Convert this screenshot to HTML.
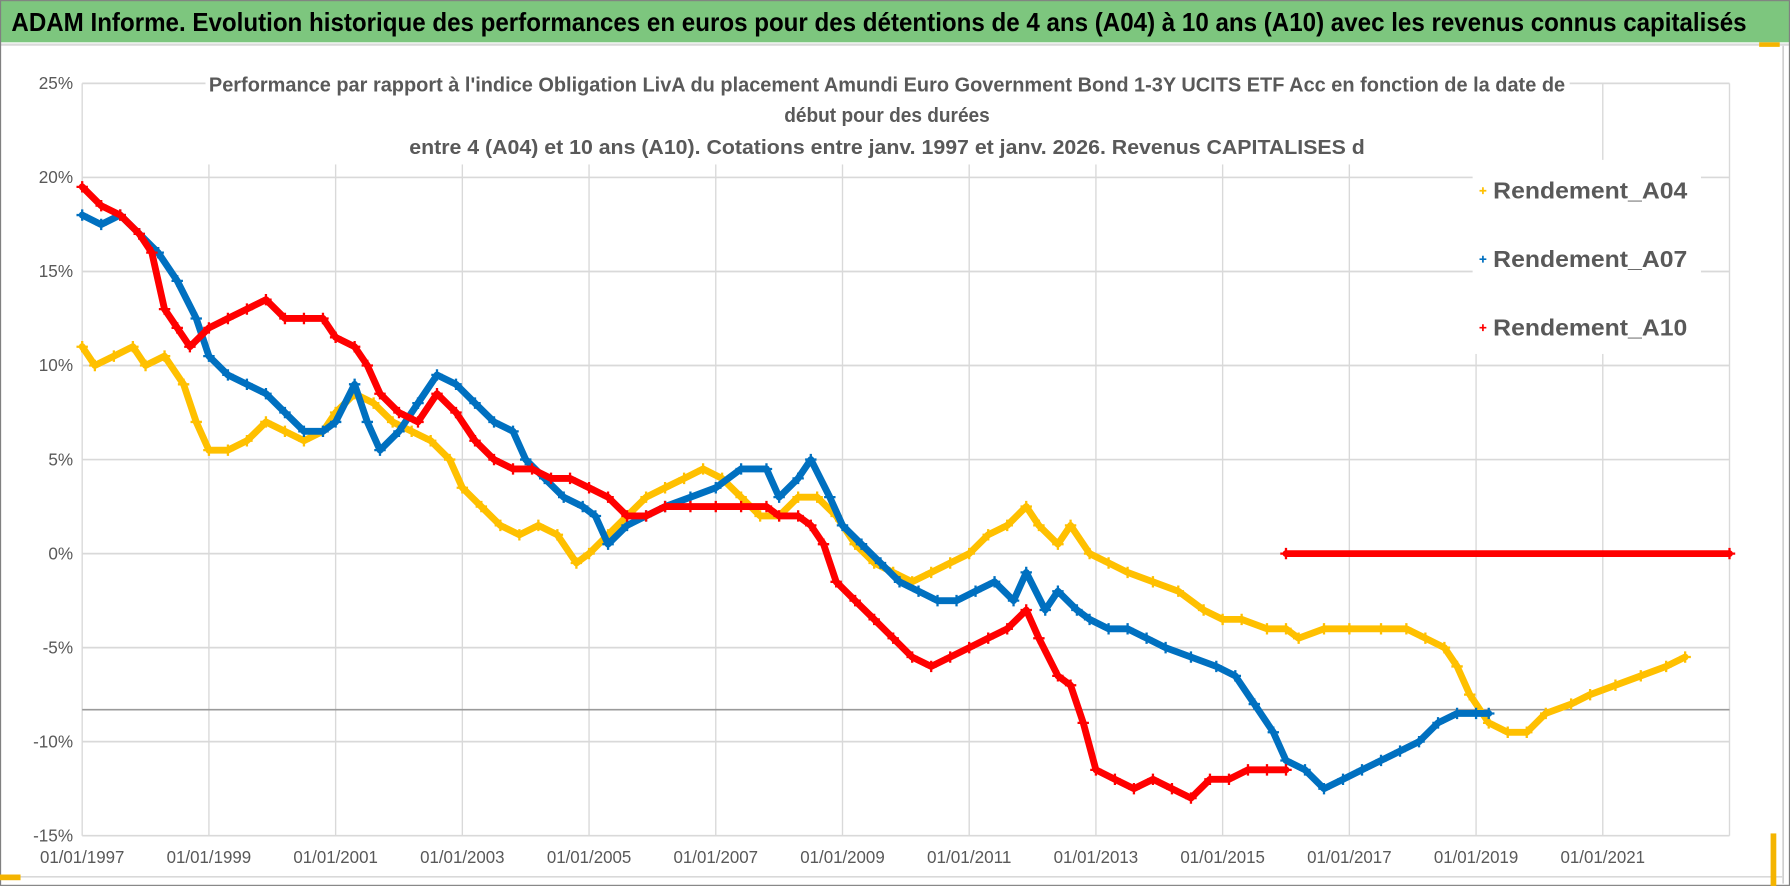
<!DOCTYPE html>
<html><head><meta charset="utf-8"><style>
html,body{margin:0;padding:0;background:#fff;}
svg{display:block;font-family:"Liberation Sans",sans-serif;}
</style></head><body>
<svg id="chart" width="1790" height="886" viewBox="0 0 1568 776" xmlns="http://www.w3.org/2000/svg">
<rect x="0" y="0" width="1568" height="776" fill="#fff"/>
<rect x="0" y="0" width="1568" height="37" fill="#7dc67e"/>
<text x="10" y="27" font-size="22.5" font-weight="bold" fill="#000" textLength="1520" lengthAdjust="spacingAndGlyphs">ADAM Informe. Evolution historique des performances en euros pour des détentions de 4 ans (A04) à 10 ans (A10) avec les revenus connus capitalisés</text>
<line x1="0" y1="39" x2="1568" y2="39" stroke="#d9d9d9" stroke-width="2"/>
<rect x="0.5" y="0.5" width="1567" height="775" fill="none" stroke="#808080" stroke-width="1"/>
<line x1="1562" y1="40" x2="1562" y2="774" stroke="#d0d0d0" stroke-width="1.5"/>
<line x1="0" y1="768" x2="1562" y2="768" stroke="#d9d9d9" stroke-width="1.5"/>
<rect x="0" y="766" width="18" height="5" fill="#f4b400"/>
<rect x="1551" y="730" width="5" height="46" fill="#f4b400"/>
<rect x="1541" y="37" width="18" height="4" fill="#f4b400"/>
<g id="grid"></g>
<g id="marks"></g>
<g id="overlay"></g>
</svg>
<script>
// ---- data ----
const yTicks = [25, 20, 15, 10, 5, 0, -5, -10, -15];
const yTickLabels = ["25%", "20%", "15%", "10%", "5%", "0%", "-5%", "-10%", "-15%"];
const xTicks = [1997, 1999, 2001, 2003, 2005, 2007, 2009, 2011, 2013, 2015, 2017, 2019, 2021];
const xTickLabels = ["01/01/1997","01/01/1999","01/01/2001","01/01/2003","01/01/2005","01/01/2007","01/01/2009","01/01/2011","01/01/2013","01/01/2015","01/01/2017","01/01/2019","01/01/2021"];
const refLineValue = -8.3;

const a04Dates = [1997.0,1997.2,1997.5,1997.8,1998.0,1998.3,1998.6,1998.8,1999.0,1999.3,1999.6,1999.9,2000.2,2000.5,2000.8,2001.0,2001.3,2001.6,2001.9,2002.2,2002.5,2002.8,2003.0,2003.3,2003.6,2003.9,2004.2,2004.5,2004.8,2005.0,2005.3,2005.6,2005.9,2006.2,2006.5,2006.8,2007.1,2007.4,2007.7,2008.0,2008.3,2008.6,2008.9,2009.2,2009.5,2009.8,2010.1,2010.4,2010.7,2011.0,2011.3,2011.6,2011.9,2012.1,2012.4,2012.6,2012.9,2013.2,2013.5,2013.9,2014.3,2014.7,2015.0,2015.3,2015.7,2016.0,2016.2,2016.6,2017.0,2017.5,2017.9,2018.2,2018.5,2018.7,2018.9,2019.2,2019.5,2019.8,2020.1,2020.5,2020.8,2021.2,2021.6,2022.0,2022.3];
const a04Values = [11,10,10.5,11,10,10.5,9,7,5.5,5.5,6,7,6.5,6,6.5,7.5,8.5,8,7,6.5,6,5,3.5,2.5,1.5,1,1.5,1,-0.5,0,1,2,3,3.5,4,4.5,4,3,2,2,3,3,2,0.5,-0.5,-1,-1.5,-1,-0.5,0,1,1.5,2.5,1.5,0.5,1.5,0,-0.5,-1,-1.5,-2,-3,-3.5,-3.5,-4,-4,-4.5,-4,-4,-4,-4,-4.5,-5,-6,-7.5,-9,-9.5,-9.5,-8.5,-8,-7.5,-7,-6.5,-6,-5.5];

const a07Dates = [1997.0,1997.3,1997.6,1997.9,1998.2,1998.5,1998.8,1999.0,1999.3,1999.6,1999.9,2000.2,2000.5,2000.8,2001.0,2001.3,2001.5,2001.7,2002.0,2002.3,2002.6,2002.9,2003.2,2003.5,2003.8,2004.0,2004.3,2004.6,2004.9,2005.1,2005.3,2005.6,2005.9,2006.2,2006.6,2007.0,2007.4,2007.8,2008.0,2008.3,2008.5,2008.8,2009.0,2009.3,2009.6,2009.9,2010.2,2010.5,2010.8,2011.1,2011.4,2011.7,2011.9,2012.2,2012.4,2012.7,2012.9,2013.2,2013.5,2013.8,2014.1,2014.5,2014.9,2015.2,2015.5,2015.8,2016.0,2016.3,2016.6,2016.9,2017.2,2017.5,2017.8,2018.1,2018.4,2018.7,2019.0,2019.2];
const a07Values = [18,17.5,18,17,16,14.5,12.5,10.5,9.5,9,8.5,7.5,6.5,6.5,7,9,7,5.5,6.5,8,9.5,9,8,7,6.5,5,4,3,2.5,2,0.5,1.5,2,2.5,3,3.5,4.5,4.5,3,4,5,3,1.5,0.5,-0.5,-1.5,-2,-2.5,-2.5,-2,-1.5,-2.5,-1,-3,-2,-3,-3.5,-4,-4,-4.5,-5,-5.5,-6,-6.5,-8,-9.5,-11,-11.5,-12.5,-12,-11.5,-11,-10.5,-10,-9,-8.5,-8.5,-8.5];

const a10Dates = [1997.0,1997.3,1997.6,1997.9,1998.1,1998.3,1998.5,1998.7,1999.0,1999.3,1999.6,1999.9,2000.2,2000.5,2000.8,2001.0,2001.3,2001.5,2001.7,2002.0,2002.3,2002.6,2002.9,2003.2,2003.5,2003.8,2004.1,2004.4,2004.7,2005.0,2005.3,2005.6,2005.9,2006.2,2006.6,2007.0,2007.4,2007.8,2008.0,2008.3,2008.5,2008.7,2008.9,2009.2,2009.5,2009.8,2010.1,2010.4,2010.7,2011.0,2011.3,2011.6,2011.9,2012.1,2012.4,2012.6,2012.8,2013.0,2013.3,2013.6,2013.9,2014.2,2014.5,2014.8,2015.1,2015.4,2015.7,2016.0];
const a10Values = [19.5,18.5,18,17,16,13,12,11,12,12.5,13,13.5,12.5,12.5,12.5,11.5,11,10,8.5,7.5,7,8.5,7.5,6,5,4.5,4.5,4,4,3.5,3,2,2,2.5,2.5,2.5,2.5,2.5,2,2,1.5,0.5,-1.5,-2.5,-3.5,-4.5,-5.5,-6,-5.5,-5,-4.5,-4,-3,-4.5,-6.5,-7,-9,-11.5,-12,-12.5,-12,-12.5,-13,-12,-12,-11.5,-11.5,-11.5];
const a10FlatDates = [2016.0, 2023.0];
const a10FlatValues = [0, 0];

// ---- axes ----
const X0 = 72, X1 = 1515, Y25 = 73, Y15n = 732;
const xMin = 1997, xMax = 2023, yMax = 25, yMin = -15;
function xScale(t){ return X0 + (t - xMin) / (xMax - xMin) * (X1 - X0); }
function yScale(v){ return Y25 + (yMax - v) / (yMax - yMin) * (Y15n - Y25); }

const NS = "http://www.w3.org/2000/svg";
function mk(tag, attrs, parent){
  const e = document.createElementNS(NS, tag);
  for (const k in attrs) e.setAttribute(k, attrs[k]);
  parent.appendChild(e);
  return e;
}
const grid = document.getElementById('grid');
const marks = document.getElementById('marks');
const overlay = document.getElementById('overlay');

xTicks.forEach((t, i) => {
  const gl = mk('line', {x1:xScale(t), x2:xScale(t), y1:Y25, y2:Y15n, stroke:'#d9d9d9', 'stroke-width':1.2}, grid);
  
  
  const lb = mk('text', {x:xScale(t), y:756, 'font-size':15, fill:'#595959', 'text-anchor':'middle', textLength:74, lengthAdjust:'spacingAndGlyphs'}, grid);
  lb.textContent = xTickLabels[i];
  
  
});
mk('line', {x1:X1, x2:X1, y1:Y25, y2:Y15n, stroke:'#d9d9d9', 'stroke-width':1.2}, grid);
yTicks.forEach((v, i) => {
  const gl = mk('line', {x1:X0, x2:X1, y1:yScale(v), y2:yScale(v), stroke:'#d9d9d9', 'stroke-width':1.5}, grid);
  
  
  const lb = mk('text', {x:X0 - 8, y:yScale(v) + 5, 'font-size':15, fill:'#595959', 'text-anchor':'end'}, grid);
  lb.textContent = yTickLabels[i];
  
  
});
const ref = mk('line', {x1:X0, x2:X1, y1:yScale(refLineValue), y2:yScale(refLineValue), stroke:'#9a9a9a', 'stroke-width':1.5}, grid);



function drawSeries(dates, vals, color, name){
  const g = mk('g', {}, marks);
  
  
  const pts = dates.map((d, i) => xScale(d).toFixed(1) + ',' + yScale(vals[i]).toFixed(1)).join(' ');
  mk('polyline', {points:pts, fill:'none', stroke:color, 'stroke-width':6, 'stroke-linejoin':'round', 'stroke-linecap':'round'}, g);
  dates.forEach((d, i) => {
    const x = xScale(d), y = yScale(vals[i]);
    const p = mk('path', {d:`M${x-5},${y}H${x+5}M${x},${y-5}V${y+5}`, stroke:color, 'stroke-width':2}, g);
    
    
  });
}
drawSeries(a04Dates, a04Values, '#ffc000', 'series-a04');
drawSeries(a07Dates, a07Values, '#0070c0', 'series-a07');
drawSeries(a10Dates, a10Values, '#ff0000', 'series-a10');
drawSeries(a10FlatDates, a10FlatValues, '#ff0000', 'series-a10-flat');

// title box
const tb = mk('rect', {x:180, y:58, width:1195, height:86, fill:'#fff'}, overlay);


const titleLines = [
  ["Performance par rapport à l'indice Obligation LivA  du placement Amundi Euro Government Bond 1-3Y UCITS ETF Acc en fonction de la date de", 80, 1188],
  ["début pour des durées", 107, 180],
  ["entre 4 (A04) et 10 ans (A10). Cotations entre janv. 1997 et janv. 2026. Revenus CAPITALISES d", 135, 837]
];
titleLines.forEach(([t, y, w]) => {
  const e = mk('text', {x:777, y:y, 'font-size':18, 'font-weight':'bold', fill:'#595959', 'text-anchor':'middle', textLength:w, lengthAdjust:'spacingAndGlyphs'}, overlay);
  e.textContent = t;
  
  
});
// legend
const lgBox = mk('rect', {x:1290, y:140, width:200, height:170, fill:'#fff'}, overlay);


const legendNames = ["Rendement_A04", "Rendement_A07", "Rendement_A10"];
const legendColors = ['#ffc000', '#0070c0', '#ff0000'];
legendNames.forEach((n, i) => {
  const y = 167 + i * 60;
  mk('path', {d:`M${1296},${y}h6M${1299},${y-3}v6`, stroke:legendColors[i], 'stroke-width':1.5}, overlay);
  const t = mk('text', {x:1308, y:y + 7, 'font-size':20, 'font-weight':'bold', fill:'#595959', textLength:170, lengthAdjust:'spacingAndGlyphs'}, overlay);
  t.textContent = n;
  
  
});
</script>
</body></html>
